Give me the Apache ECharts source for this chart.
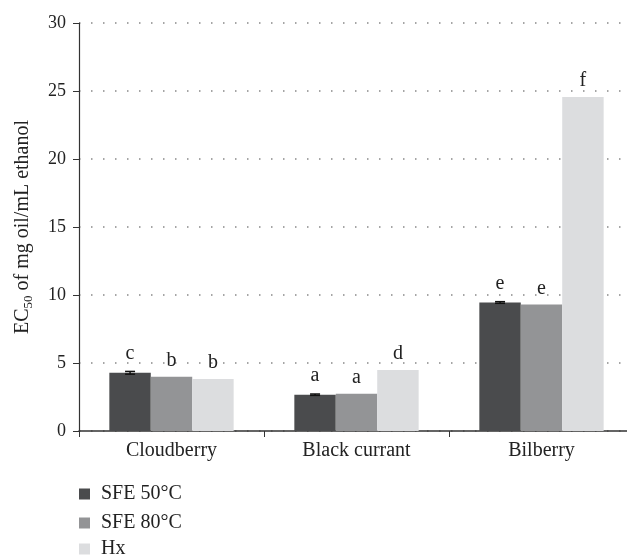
<!DOCTYPE html>
<html>
<head>
<meta charset="utf-8">
<script src="https://cdn.jsdelivr.net/npm/echarts@6/dist/echarts.min.js"></script>
<style>
  html, body { margin: 0; padding: 0; background: #fff; overflow: hidden; }
  #main { width: 634px; height: 557px; }
</style>
</head>
<body>
<div id="main"></div>
<script>
var categories = ['Cloudberry', 'Black currant', 'Bilberry'];
var seriesNames = ['SFE 50°C', 'SFE 80°C', 'Hx'];
var sfe50 = [4.28, 2.67, 9.45];
var sfe80 = [3.99, 2.74, 9.3];
var hx = [3.82, 4.49, 24.55];
var sfe50Err = [0.1, 0.05, 0.06];
var sfe50Letters = ['c', 'a', 'e'];
var sfe80Letters = ['b', 'a', 'e'];
var hxLetters = ['b', 'd', 'f'];
var yTicks = [0, 5, 10, 15, 20, 25, 30];

var serif = 'Liberation Serif';
var colors = ['#4a4b4d', '#939496', '#dcdddf'];
var BAR_W = 0.224;

function letterLabel(letters, dist) {
    return {
        show: true,
        position: 'top',
        distance: dist,
        fontFamily: serif,
        fontSize: 20,
        color: '#222',
        formatter: function (p) { return letters[p.dataIndex]; }
    };
}

// one legend per row, stacked under the chart
var legendTops = [484, 513, 539];
var legends = seriesNames.map(function (n, i) {
    return {
        data: [n],
        left: 79,
        top: legendTops[i],
        padding: 0,
        itemWidth: 11,
        itemHeight: 11,
        icon: 'rect',
        selectedMode: false,
        textStyle: { fontFamily: serif, fontSize: 20, color: '#222', padding: [0, 0, 0, 6] }
    };
});

var myChart = echarts.init(document.getElementById('main'));
var option = {
    animation: false,
    textStyle: { fontFamily: serif },
    grid: { left: 79, top: 23, right: 0, height: 408 },
    legend: legends,
    xAxis: {
        type: 'category',
        data: categories,
        axisLine: { lineStyle: { color: '#333', width: 1.5 } },
        axisTick: { show: true, length: 6, lineStyle: { color: '#333' } },
        axisLabel: { fontFamily: serif, fontSize: 20, color: '#222', margin: 10 }
    },
    yAxis: {
        type: 'value',
        min: yTicks[0],
        max: yTicks[yTicks.length - 1],
        interval: 5,
        name: '{a|EC}{b|50}{a| of mg oil/mL ethanol}',
        nameLocation: 'middle',
        nameGap: 44,
        nameTextStyle: {
            rich: {
                a: { fontFamily: serif, fontSize: 20, color: '#222', lineHeight: 24 },
                b: { fontFamily: serif, fontSize: 13, color: '#222', lineHeight: 14, verticalAlign: 'bottom' }
            }
        },
        axisLine: { show: true, lineStyle: { color: '#333', width: 1.2 } },
        axisTick: { show: true, inside: false, length: 6, lineStyle: { color: '#333' } },
        axisLabel: { fontFamily: serif, fontSize: 18, color: '#222', margin: 13 },
        splitLine: { lineStyle: { color: '#888', width: 1.5, type: [1.5, 10.5] } }
    },
    series: [
        {
            name: seriesNames[0], type: 'bar', data: sfe50,
            barWidth: (BAR_W * 100) + '%', barGap: '0%',
            itemStyle: { color: colors[0] },
            label: letterLabel(sfe50Letters, 9)
        },
        {
            name: seriesNames[1], type: 'bar', data: sfe80,
            barWidth: (BAR_W * 100) + '%', barGap: '0%',
            itemStyle: { color: colors[1] },
            label: letterLabel(sfe80Letters, 6)
        },
        {
            name: seriesNames[2], type: 'bar', data: hx,
            barWidth: (BAR_W * 100) + '%', barGap: '0%',
            itemStyle: { color: colors[2] },
            label: letterLabel(hxLetters, 6)
        },
        {
            type: 'custom',
            z: 10,
            data: sfe50.map(function (v, i) { return [i, v, sfe50Err[i]]; }),
            renderItem: function (params, api) {
                var band = api.size([1, 0])[0];
                var off = -band * BAR_W;
                var top = api.coord([api.value(0), api.value(1) + api.value(2)]);
                var bot = api.coord([api.value(0), api.value(1) - api.value(2)]);
                var x = top[0] + off;
                var hw = 5;
                var st = { stroke: '#111', lineWidth: 1.5 };
                return {
                    type: 'group',
                    children: [
                        { type: 'line', shape: { x1: x, y1: top[1], x2: x, y2: bot[1] }, style: st },
                        { type: 'line', shape: { x1: x - hw, y1: top[1], x2: x + hw, y2: top[1] }, style: st },
                        { type: 'line', shape: { x1: x - hw, y1: bot[1], x2: x + hw, y2: bot[1] }, style: st }
                    ]
                };
            }
        }
    ]
};
myChart.setOption(option);
</script>
</body>
</html>
